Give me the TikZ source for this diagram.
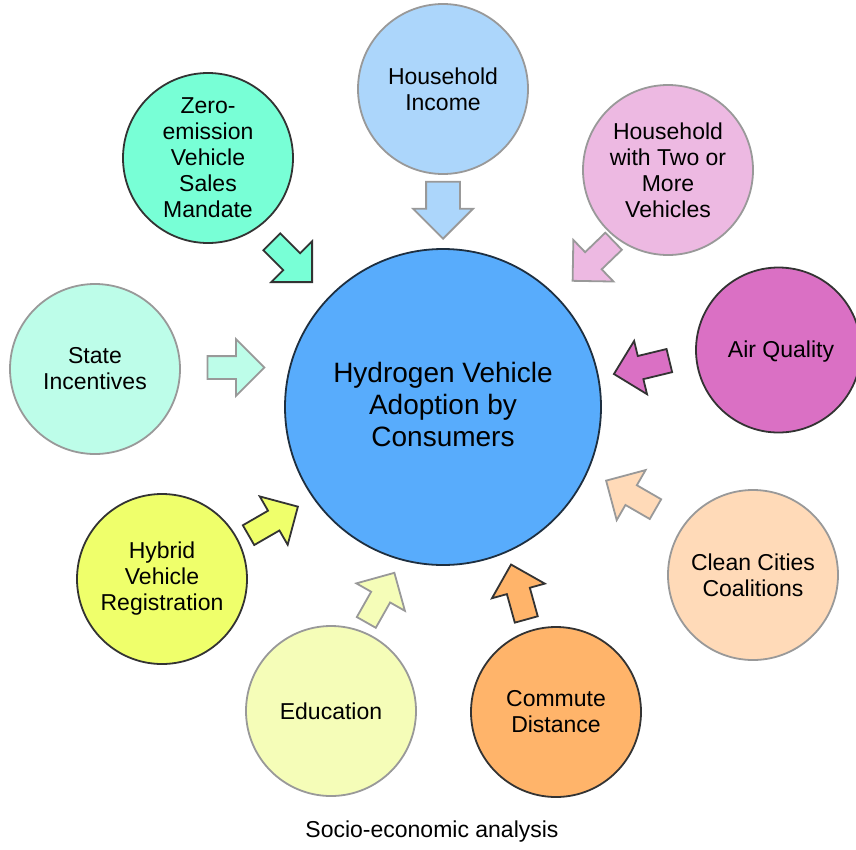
\documentclass[tikz,border=0pt]{standalone}
\usepackage{fontspec}
\setmainfont{Liberation Sans}
\usetikzlibrary{shapes.arrows}
\definecolor{dkline}{HTML}{333333}
\definecolor{ltline}{HTML}{999999}
\definecolor{cCentral}{HTML}{58ACFC}
\definecolor{cCentralLine}{HTML}{1E2F40}
\definecolor{cIncome}{HTML}{ACD6FB}
\definecolor{cZero}{HTML}{78FFD6}
\definecolor{cTwo}{HTML}{EDB9E2}
\definecolor{cState}{HTML}{BDFDE9}
\definecolor{cAir}{HTML}{DA70C4}
\definecolor{cHybrid}{HTML}{EFFF6B}
\definecolor{cEdu}{HTML}{F5FDB8}
\definecolor{cCommute}{HTML}{FFB46A}
\definecolor{cClean}{HTML}{FFDAB8}
\begin{document}
\begin{tikzpicture}[x=1pt,y=-1pt,
  bub/.style={circle, inner sep=0pt, minimum size=170pt, line width=1.8pt, align=center,
    font=\fontsize{23}{26}\selectfont},
  dk/.style={draw=dkline},
  lt/.style={draw=ltline},
  blk/.style={single arrow, single arrow tip angle=90, minimum height=57pt,
    inner xsep=0pt, line width=1.8pt, anchor=tip},
]
\clip (0,0) rectangle (856,849);
\fill[white] (0,0) rectangle (856,849);

% central
\node[circle, inner sep=0pt, minimum size=316pt, line width=1.8pt, draw=cCentralLine,
  fill=cCentral] (hub) at (443,407) {};
\node[align=center, font=\fontsize{28}{32}\selectfont] (hubtext) at (443,404)
  {Hydrogen Vehicle\\Adoption by\\Consumers};

% satellites
\node[bub, lt, fill=cIncome] (income) at (443,89) {Household\\Income};
\node[bub, dk, fill=cZero] (zero) at (208,158) {Zero-\\emission\\Vehicle\\Sales\\Mandate};
\node[bub, lt, fill=cTwo] (two) at (668,170) {Household\\with Two or\\More\\Vehicles};
\node[bub, lt, fill=cState] (state) at (95,369) {State\\Incentives};
\node[circle, inner sep=0pt, minimum size=165pt, line width=1.8pt, dk, fill=cAir] (air) at (778.5,350) {};
\node[font=\fontsize{23}{26}\selectfont] (airtext) at (781,352) {Air Quality};
\node[bub, dk, fill=cHybrid] (hybrid) at (162,579) {Hybrid\\Vehicle\\Registration};
\node[bub, lt, fill=cEdu] (edu) at (331,711) {Education};
\node[bub, dk, fill=cCommute] (commute) at (556,712) {Commute\\Distance};
\node[bub, lt, fill=cClean] (clean) at (753,575) {Clean Cities\\Coalitions};

% block arrows (placed by their tips)
\node[blk, dk, fill=cZero, inner ysep=11pt, single arrow head extend=17pt, rotate=-45] (a1) at (313,283) {};
\node[blk, lt, fill=cIncome, inner ysep=16pt, single arrow head extend=13pt, rotate=-90] (a2) at (443,240) {};
\node[blk, lt, fill=cTwo, inner ysep=11pt, single arrow head extend=17pt, rotate=-136] (a3) at (571.7,281.7) {};
\node[blk, dk, fill=cAir, inner ysep=11pt, single arrow head extend=15.5pt, rotate=193.6] (a4) at (612.7,374.3) {};
\node[blk, lt, fill=cState, inner ysep=10.5pt, single arrow head extend=17pt, rotate=0] (a5) at (265.7,367.5) {};
\node[blk, lt, fill=cClean, inner ysep=10.5pt, single arrow head extend=17.5pt, rotate=150] (a6) at (605,480) {};
\node[blk, dk, fill=cCommute, inner ysep=11pt, single arrow head extend=15.5pt, rotate=105.5] (a7) at (510.7,563.3) {};
\node[blk, lt, fill=cEdu, inner ysep=10pt, single arrow head extend=17pt, rotate=60.5] (a8) at (395,571.7) {};
\node[blk, dk, fill=cHybrid, inner ysep=10.5pt, single arrow head extend=16.5pt, rotate=30] (a9) at (299,506) {};

% caption
\node[font=\fontsize{23}{26}\selectfont] (caption) at (432,832) {Socio-economic analysis};
\end{tikzpicture}
\end{document}
